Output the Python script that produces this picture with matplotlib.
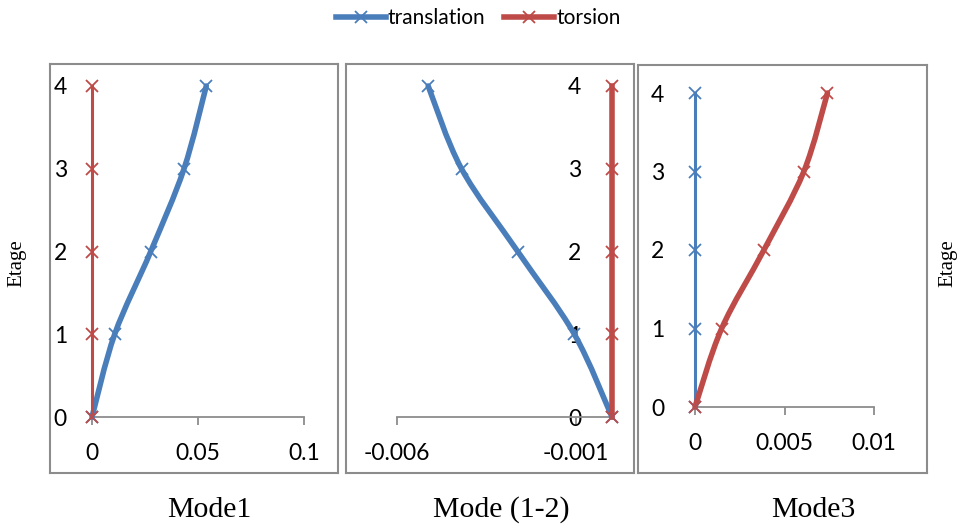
import matplotlib
matplotlib.use("Agg")
import matplotlib.pyplot as plt
from matplotlib.path import Path
from matplotlib.patches import PathPatch
from matplotlib.lines import Line2D
import numpy as np

# ---------------- data ----------------
etage = [0, 1, 2, 3, 4]
mode1_translation = [0.0, 0.0107, 0.0277, 0.0434, 0.0539]
mode1_torsion = [0.0, 0.0, 0.0, 0.0, 0.0]
mode12_translation = [0.0, -0.00105, -0.00263, -0.0042, -0.00513]
mode12_torsion = [0.0, 0.0, 0.0, 0.0, 0.0]
mode3_translation = [0.0, 0.0, 0.0, 0.0, 0.0]
mode3_torsion = [0.0, 0.00149, 0.00385, 0.00608, 0.0074]
titles = ["Mode1", "Mode (1-2)", "Mode3"]
xticks1 = [0, 0.05, 0.1]
xticks2 = [-0.006, -0.001]
xticks3 = [0, 0.005, 0.01]
xtick_labels1 = ["0", "0.05", "0.1"]
xtick_labels2 = ["-0.006", "-0.001"]
xtick_labels3 = ["0", "0.005", "0.01"]
yticks = [0, 1, 2, 3, 4]
series_names = ["translation", "torsion"]

BLUE = "#4A7EBB"
RED = "#BE4B48"
GRAY = "#8C8C8C"
SANS = "Lato"
SERIF = "Liberation Serif"
TICKFS = 16.5
THICK = 4.0
THIN = 2.2

W, H = 960, 528
fig = plt.figure(figsize=(W / 100, H / 100), dpi=100)


def fr(x0, y0, x1, y1):
    """pixel box (top-left origin) -> figure fraction rect"""
    return [x0 / W, 1 - y1 / H, (x1 - x0) / W, (y1 - y0) / H]


def smooth_path(xs, ys):
    pts = np.column_stack([xs, ys]).astype(float)
    n = len(pts)
    verts = [pts[0]]
    codes = [Path.MOVETO]
    for i in range(n - 1):
        p0 = pts[i - 1] if i > 0 else pts[i]
        p1 = pts[i]
        p2 = pts[i + 1]
        p3 = pts[i + 2] if i + 2 < n else pts[i + 1]
        c1 = p1 + (p2 - p0) / 6.0
        c2 = p2 - (p3 - p1) / 6.0
        verts += [c1, c2, p2]
        codes += [Path.CURVE4] * 3
    return Path(verts, codes)


def draw_series(ax, xs, ys, color, lw, smooth):
    if smooth:
        patch = PathPatch(smooth_path(xs, ys), facecolor="none", edgecolor=color,
                          lw=lw, capstyle="round", joinstyle="round", zorder=3)
        patch.set_clip_on(False)
        ax.add_patch(patch)
    else:
        ax.plot(xs, ys, color=color, lw=lw, clip_on=False, zorder=3)
    ln, = ax.plot(xs, ys, linestyle="none", marker="x", ms=9, mew=1.3,
                  color=color, clip_on=False, zorder=4)
    return ln


def frame(box):
    f = fig.add_axes(fr(*box))
    f.set_xticks([])
    f.set_yticks([])
    f.patch.set_alpha(0)
    for s in f.spines.values():
        s.set_color(GRAY)
        s.set_linewidth(1.5)
    return f


def style_axes(ax, xlim, xticks, xlabels, ypad):
    ax.set_xlim(*xlim)
    ax.set_ylim(0, 4)
    ax.patch.set_alpha(0)
    for s in ["top", "right"]:
        ax.spines[s].set_visible(False)
    ax.spines["left"].set_color("none")
    ax.spines["bottom"].set_color(GRAY)
    ax.spines["bottom"].set_linewidth(1.3)
    ax.set_xticks(xticks)
    ax.set_xticklabels(xlabels, fontfamily=SANS, fontsize=TICKFS)
    ax.set_yticks(yticks)
    ax.set_yticklabels([str(v) for v in yticks], fontfamily=SANS, fontsize=TICKFS)
    ax.tick_params(axis="x", direction="out", length=6, width=1.3, color=GRAY, pad=13)
    ax.tick_params(axis="y", length=0, pad=ypad)


# frames
frame((50, 64, 338, 473))
frame((346, 64, 634, 473))
frame((638, 65, 927, 473))

# panel 1
ax1 = fig.add_axes(fr(92, 86, 304, 417))
style_axes(ax1, (0, 0.1), xticks1, xtick_labels1, 18)
draw_series(ax1, mode1_translation, etage, BLUE, THICK, True)
draw_series(ax1, mode1_torsion, etage, RED, THIN, False)

# panel 2
ax2 = fig.add_axes(fr(397, 86, 612, 417))
ax2.spines["left"].set_position(("data", 0))
style_axes(ax2, (-0.006, 0), xticks2, xtick_labels2, 22)
draw_series(ax2, mode12_translation, etage, BLUE, THICK, True)
draw_series(ax2, mode12_torsion, etage, RED, THICK, False)

# panel 3
ax3 = fig.add_axes(fr(695, 93, 874, 407))
style_axes(ax3, (0, 0.01), xticks3, xtick_labels3, 22)
draw_series(ax3, mode3_translation, etage, BLUE, THIN, False)
draw_series(ax3, mode3_torsion, etage, RED, THICK, True)

# titles
for xc, t in zip([209, 501, 813], titles):
    fig.text(xc / W, 1 - 510 / H, t, ha="center", va="center",
             fontfamily=SERIF, fontsize=21.5)

# Etage labels
for xc in [17, 948]:
    fig.text(xc / W, 1 - 263 / H, "Etage", rotation=90, ha="center", va="center",
             fontfamily=SERIF, fontsize=15)

# legend
handles = [Line2D([], [], color=BLUE, lw=THICK, marker="x", ms=9, mew=1.3),
           Line2D([], [], color=RED, lw=THICK, marker="x", ms=9, mew=1.3)]
fig.legend(handles, series_names, loc="center", bbox_to_anchor=(478 / W, 1 - 18 / H),
           ncol=2, frameon=False, prop={"family": SANS, "size": 15},
           handlelength=2.4, handletextpad=0.1, columnspacing=0.9)

fig.savefig("out.png", dpi=100)
